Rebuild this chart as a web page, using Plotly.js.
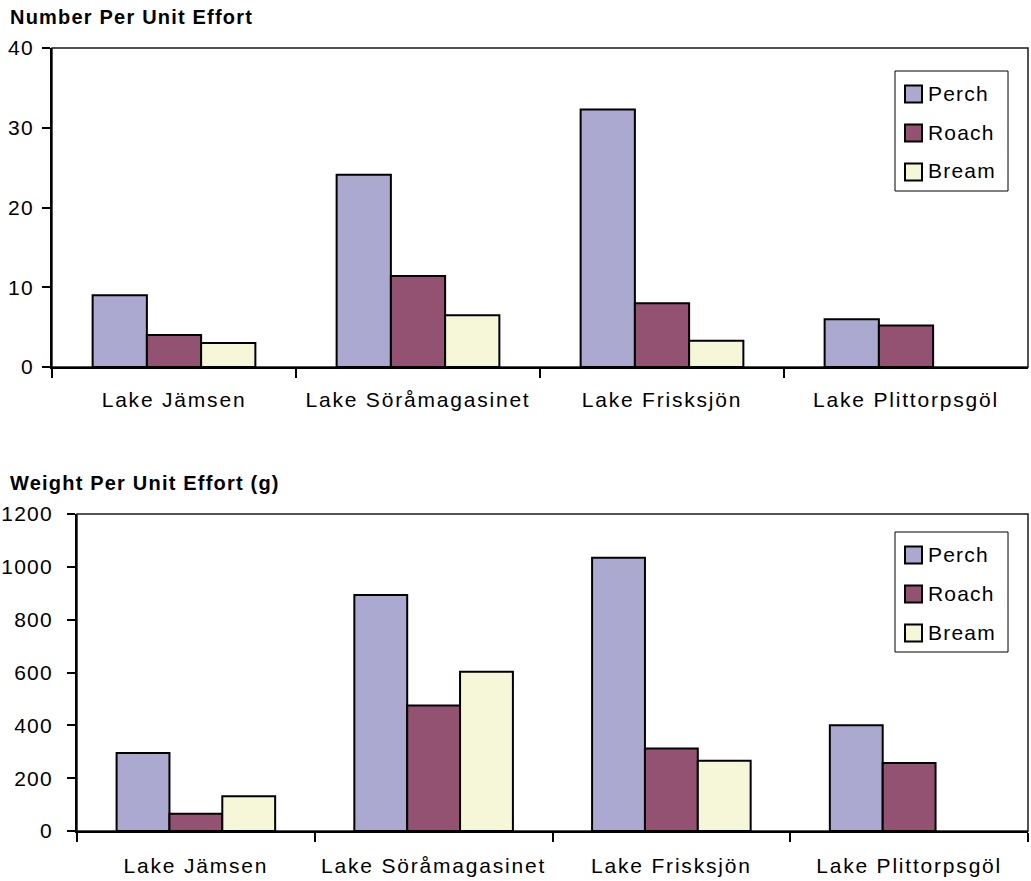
<!DOCTYPE html>
<html>
<head>
<meta charset="utf-8">
<script src="https://cdn.plot.ly/plotly-3.0.1.min.js"></script>
<style>
  html, body { margin: 0; padding: 0; background: #ffffff; }
  #chart { width: 1031px; height: 881px; }
  /* wide-set lettering of the category, value, heading and key text */
  .xtick text, .x2tick text { letter-spacing: 1.8px; }
  .ytick text, .y2tick text { letter-spacing: 1.2px; }
  .annotation-text { letter-spacing: 1.2px; }
</style>
</head>
<body>
<div id="chart"></div>
<script>
// Lakes sampled
const lakes = ["Lake Jämsen", "Lake Söråmagasinet", "Lake Frisksjön", "Lake Plittorpsgöl"];

// Species names (key entries)
const species = ["Perch", "Roach", "Bream"];

// Number per unit effort, by lake
const perchNumber = [9.0, 24.1, 32.3, 6.0];
const roachNumber = [4.0, 11.4, 8.0, 5.2];
const breamNumber = [3.0, 6.5, 3.3, null];

// Weight per unit effort (g), by lake
const perchWeight = [295, 893, 1034, 400];
const roachWeight = [65, 475, 312, 257];
const breamWeight = [132, 603, 266, null];

// Panel headings
const numberTitle = "Number Per Unit Effort";
const weightTitle = "Weight Per Unit Effort (g)";

const fillColors = ["#aba9cf", "#945272", "#f6f6d9"];
const FONT = "Liberation Sans, Arial, sans-serif";
const W = 1031, H = 881;

const numberSeries = [perchNumber, roachNumber, breamNumber];
const weightSeries = [perchWeight, roachWeight, breamWeight];

const traces = [];
species.forEach((name, i) => {
  traces.push({
    type: "bar", name: name, x: lakes, y: numberSeries[i],
    xaxis: "x", yaxis: "y", showlegend: false,
    marker: { color: fillColors[i], line: { color: "#000000", width: 2 } }
  });
});
species.forEach((name, i) => {
  traces.push({
    type: "bar", name: name, x: lakes, y: weightSeries[i],
    xaxis: "x2", yaxis: "y2", showlegend: false,
    marker: { color: fillColors[i], line: { color: "#000000", width: 2 } }
  });
});

// pixel helpers for paper-coordinate placement
const px = v => v / W;
const py = v => 1 - v / H;

const topBox = { x0: 52, x1: 1028, y0: 48, y1: 367 };
const botBox = { x0: 77, x1: 1028, y0: 514, y1: 831 };

const tickFont = { family: FONT, size: 21, color: "#000000" };

function xAxis(box, anchor, standoff) {
  return {
    domain: [px(box.x0), px(box.x1)], anchor: anchor,
    type: "category", range: [-0.5, 3.5], fixedrange: true,
    showline: true, linecolor: "#000000", linewidth: 2,
    ticks: "outside", tickson: "boundaries", ticklen: 9, tickwidth: 2, tickcolor: "#000000",
    ticklabelstandoff: standoff,
    showgrid: false, zeroline: false, tickfont: tickFont
  };
}
function yAxis(box, anchor, max, step, standoff) {
  return {
    domain: [py(box.y1), py(box.y0)], anchor: anchor,
    range: [0, max], dtick: step, tick0: 0, fixedrange: true,
    showline: true, linecolor: "#000000", linewidth: 2,
    ticks: "outside", ticklen: 8, tickwidth: 2, tickcolor: "#000000",
    ticklabelstandoff: standoff,
    showgrid: false, zeroline: false, tickfont: tickFont
  };
}

// frame (top and right edges of each plot area)
function frame(box) {
  return {
    type: "rect", xref: "paper", yref: "paper",
    x0: px(box.x0), x1: px(box.x1), y0: py(box.y1), y1: py(box.y0),
    line: { color: "#1a1a1a", width: 1.5 }, fillcolor: "rgba(0,0,0,0)", layer: "below"
  };
}

const shapes = [frame(topBox), frame(botBox)];
const annotations = [
  { text: "<b>" + numberTitle + "</b>", xref: "paper", yref: "paper",
    x: px(8), y: py(16.5), xanchor: "left", yanchor: "middle", showarrow: false,
    font: { family: FONT, size: 20, color: "#000000" } },
  { text: "<b>" + weightTitle + "</b>", xref: "paper", yref: "paper",
    x: px(8), y: py(483), xanchor: "left", yanchor: "middle", showarrow: false,
    font: { family: FONT, size: 20, color: "#000000" } }
];

// boxed key in the upper right of each panel
function addKey(topPx) {
  const left = 895, right = 1008, height = 120;
  shapes.push({
    type: "rect", xref: "paper", yref: "paper",
    x0: px(left), x1: px(right), y0: py(topPx + height), y1: py(topPx),
    line: { color: "#000000", width: 1 }, fillcolor: "#ffffff", layer: "above"
  });
  species.forEach((name, i) => {
    const cy = topPx + 23 + i * 39;
    shapes.push({
      type: "rect", xref: "paper", yref: "paper",
      x0: px(905), x1: px(922), y0: py(cy + 8.5), y1: py(cy - 8.5),
      line: { color: "#000000", width: 2 }, fillcolor: fillColors[i], layer: "above"
    });
    annotations.push({
      text: name, xref: "paper", yref: "paper",
      x: px(926), y: py(cy - 1), xanchor: "left", yanchor: "middle", showarrow: false,
      font: { family: FONT, size: 21, color: "#000000" }
    });
  });
}
addKey(71);
addKey(532);

const layout = {
  width: W, height: H,
  margin: { l: 0, r: 0, t: 0, b: 0 },
  paper_bgcolor: "#ffffff", plot_bgcolor: "#ffffff",
  font: { family: FONT, color: "#000000" },
  barmode: "group", bargap: 0.333, bargroupgap: 0,
  showlegend: false,
  xaxis: xAxis(topBox, "y", 13),
  yaxis: yAxis(topBox, "x", 40, 10, 4),
  xaxis2: xAxis(botBox, "y2", 15),
  yaxis2: yAxis(botBox, "x2", 1200, 200, 10),
  shapes: shapes,
  annotations: annotations
};

Plotly.newPlot("chart", traces, layout, { displayModeBar: false, staticPlot: true });
</script>
</body>
</html>
